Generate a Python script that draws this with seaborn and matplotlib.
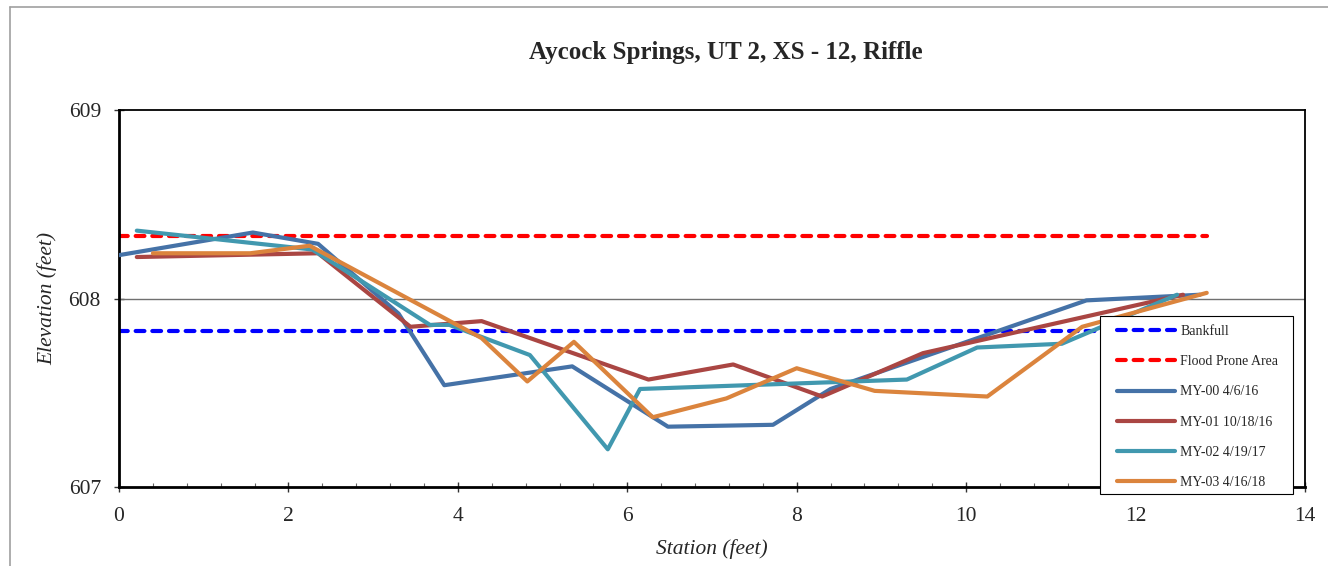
import matplotlib
matplotlib.use("Agg")
import matplotlib.pyplot as plt
from matplotlib.lines import Line2D
from matplotlib.patches import Rectangle
from matplotlib.ticker import MultipleLocator
import seaborn as sns
import pandas as pd

# Cross-section survey data (station, elevation in feet)
my00_station = [0.0, 1.58, 2.35, 3.30, 3.84, 5.35, 6.48, 7.72, 8.40, 11.42, 12.76]
my00_elev = [608.23, 608.35, 608.29, 607.92, 607.54, 607.64, 607.32, 607.33, 607.52, 607.99, 608.02]

my01_station = [0.21, 2.35, 3.44, 4.28, 6.25, 7.25, 8.30, 9.49, 12.56]
my01_elev = [608.22, 608.24, 607.85, 607.88, 607.57, 607.65, 607.48, 607.71, 608.02]

my02_station = [0.21, 2.28, 3.67, 3.90, 4.85, 5.77, 6.15, 9.30, 10.13, 11.13, 12.49]
my02_elev = [608.36, 608.26, 607.86, 607.86, 607.70, 607.20, 607.52, 607.57, 607.74, 607.76, 608.02]

my03_station = [0.40, 1.55, 2.25, 4.28, 4.82, 5.37, 6.30, 7.17, 8.00, 8.92, 10.25, 11.37, 12.84]
my03_elev = [608.24, 608.24, 608.28, 607.79, 607.56, 607.77, 607.37, 607.47, 607.63, 607.51, 607.48, 607.85, 608.03]

bankfull_station = [0.0, 12.84]
bankfull_elev = [607.83, 607.83]
flood_station = [0.0, 12.84]
flood_elev = [608.33, 608.33]

x_ticks = [0, 2, 4, 6, 8, 10, 12, 14]
y_ticks = [607, 608, 609]

survey_series = [
    ("MY-00 4/6/16", my00_station, my00_elev, "#4572A7"),
    ("MY-01 10/18/16", my01_station, my01_elev, "#AA4643"),
    ("MY-02 4/19/17", my02_station, my02_elev, "#4198AF"),
    ("MY-03 4/16/18", my03_station, my03_elev, "#DB843D"),
]
reference_lines = [
    ("Bankfull", bankfull_station, bankfull_elev, "#0000FF"),
    ("Flood Prone Area", flood_station, flood_elev, "#FF0000"),
]

sns.set_theme(style="white")
plt.rcParams["font.family"] = ["Liberation Serif", "DejaVu Serif"]

W, H = 1328, 566
fig = plt.figure(figsize=(W / 100, H / 100), dpi=100)
ax = fig.add_axes([119 / W, 1 - 487 / H, (1305 - 119) / W, (487 - 110) / H])

lw = 3.0
dash = [2.1, 1.9]
for name, xs, ys, color in reference_lines:
    df = pd.DataFrame({"station": xs, "elev": ys})
    sns.lineplot(data=df, x="station", y="elev", ax=ax, color=color, lw=lw,
                 sort=False, label=name, zorder=2)
    line = ax.lines[-1]
    line.set_dashes(dash)
    line.set_dash_capstyle("round")

for name, xs, ys, color in survey_series:
    df = pd.DataFrame({"station": xs, "elev": ys})
    sns.lineplot(data=df, x="station", y="elev", ax=ax, color=color, lw=lw,
                 sort=False, label=name, zorder=3)

ax.set_xlim(0, 14)
ax.set_ylim(607, 609)
ax.set_xticks(x_ticks)
ax.set_yticks(y_ticks)
ax.set_xticklabels([str(t) for t in x_ticks])
ax.set_yticklabels([str(t) for t in y_ticks])
ax.xaxis.set_minor_locator(MultipleLocator(0.4))

ax.axhline(608, color="#707070", lw=1.0, zorder=1)

for side in ["left", "bottom"]:
    ax.spines[side].set_linewidth(2.0)
    ax.spines[side].set_color("black")
for side in ["top", "right"]:
    ax.spines[side].set_linewidth(1.3)
    ax.spines[side].set_color("black")

ax.tick_params(axis="both", which="major", direction="inout", length=7, width=1,
               color="#333333", labelsize=15.5, pad=9.5, bottom=True, left=True)
ax.tick_params(axis="x", which="major", pad=11)
ax.tick_params(axis="x", which="minor", direction="in", length=3, width=0.8,
               color="#666666", bottom=True)

ax.set_xlabel("Station (feet)", fontsize=15.5, style="italic", labelpad=9)
ax.set_ylabel("Elevation (feet)", fontsize=15.5, style="italic", labelpad=8)

fig.text(726 / W, 1 - 52 / H, "Aycock Springs, UT 2, XS - 12, Riffle",
         ha="center", va="center", fontsize=18, fontweight="bold")

# Legend entries without their own frame; the box is drawn separately
handles, labels = ax.get_legend_handles_labels()
to_ax = lambda px, py: ((px - 119) / (1305 - 119), (487 - py) / (487 - 110))
leg = ax.legend(handles, labels, loc="upper left",
                bbox_to_anchor=to_ax(1117, 325), borderaxespad=0, borderpad=0,
                fontsize=10, handlelength=4.2, labelspacing=1.24,
                frameon=False, handletextpad=0.35)
leg.set_zorder(6)
for h in leg.get_lines()[:2]:
    h.set_dashes(dash)
    h.set_dash_capstyle("round")

x0, y0 = to_ax(1100, 494)
x1, y1 = to_ax(1293, 316)
ax.add_patch(Rectangle((x0, y0), x1 - x0, y1 - y0, transform=ax.transAxes,
                       facecolor="white", edgecolor="black", lw=0.8,
                       zorder=5, clip_on=False))

# Outer frame of the chart area
fig.add_artist(Line2D([10 / W, 10 / W], [0, 1 - 7 / H],
                      transform=fig.transFigure, color="#A0A0A0", lw=1.2))
fig.add_artist(Line2D([10 / W, 1], [1 - 7 / H, 1 - 7 / H],
                      transform=fig.transFigure, color="#A0A0A0", lw=1.2))

fig.savefig("out.png", dpi=100)
